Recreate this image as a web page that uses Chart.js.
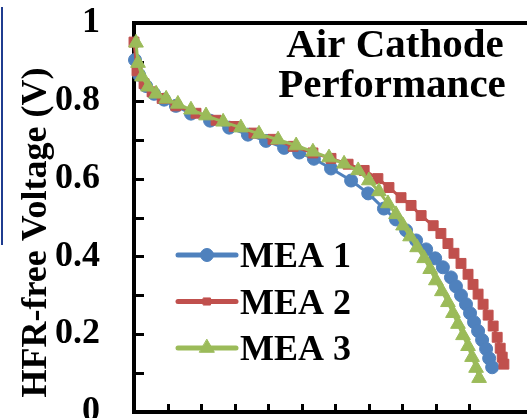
<!DOCTYPE html>
<html>
<head>
<meta charset="utf-8">
<script src="https://cdn.jsdelivr.net/npm/chart.js@4/dist/chart.umd.min.js"></script>
<style>
  html, body { margin: 0; padding: 0; background: #fff; overflow: hidden; }
  #wrap { position: relative; width: 527px; height: 440px; }
  #edge { position: absolute; left: 1px; top: 7px; width: 2px; height: 238px; background: #1f3c8f; }
  canvas { display: block; }
</style>
</head>
<body>
<div id="wrap">
  <div id="edge"></div>
  <canvas id="chart" width="527" height="440"></canvas>
</div>
<script>
// Polarization curves (HFR-free voltage vs. current density)
const seriesLabels = ['MEA 1', 'MEA 2', 'MEA 3'];
const seriesColors = ['#4F81BD', '#C0504D', '#9BBB59'];

const mea1Current = [0.003,0.015,0.036,0.060,0.090,0.125,0.170,0.227,0.284,0.340,0.394,0.448,0.493,0.537,0.588,0.648,0.699,0.746,0.782,0.812,0.842,0.872,0.899,0.922,0.946,0.961,0.976,0.991,1.003,1.015,1.027,1.039,1.051,1.060,1.069];
const mea1Voltage = [0.905,0.867,0.838,0.818,0.803,0.787,0.767,0.749,0.731,0.713,0.697,0.679,0.667,0.651,0.626,0.595,0.562,0.523,0.495,0.467,0.441,0.418,0.395,0.372,0.346,0.323,0.300,0.277,0.254,0.231,0.208,0.185,0.162,0.138,0.115];

const mea2Current = [0.000,0.009,0.030,0.054,0.084,0.125,0.185,0.245,0.299,0.358,0.415,0.475,0.534,0.588,0.639,0.687,0.728,0.761,0.797,0.827,0.857,0.893,0.916,0.937,0.955,0.976,0.997,1.012,1.027,1.042,1.057,1.072,1.084,1.093,1.099,1.104];
const mea2Voltage = [0.951,0.877,0.844,0.823,0.806,0.787,0.768,0.750,0.734,0.717,0.701,0.683,0.666,0.652,0.637,0.621,0.600,0.577,0.551,0.531,0.505,0.479,0.459,0.433,0.408,0.382,0.354,0.328,0.303,0.277,0.249,0.221,0.192,0.164,0.141,0.123];

const mea3Current = [0.006,0.012,0.024,0.042,0.066,0.096,0.131,0.170,0.215,0.266,0.319,0.373,0.430,0.484,0.534,0.582,0.627,0.669,0.701,0.731,0.758,0.782,0.803,0.824,0.845,0.866,0.884,0.901,0.919,0.937,0.952,0.967,0.982,0.997,1.009,1.021,1.030];
const mea3Voltage = [0.949,0.897,0.862,0.836,0.818,0.805,0.792,0.777,0.762,0.746,0.731,0.715,0.700,0.685,0.669,0.654,0.638,0.621,0.595,0.567,0.536,0.508,0.479,0.451,0.423,0.395,0.367,0.338,0.310,0.282,0.254,0.226,0.197,0.169,0.141,0.113,0.087];

const yTickStep = 0.1;
const xTickStep = 0.1;
const yTitle = 'HFR-free Voltage (V)';
const panelTitle = ['Air Cathode', 'Performance'];

const SERIF = '"Liberation Serif", "Times New Roman", serif';

function points(xs, ys) { return xs.map((x, i) => ({ x, y: ys[i] })); }

const series = [
  { x: mea1Current, y: mea1Voltage, style: 'circle',   radius: 6.5, order: 3 },
  { x: mea2Current, y: mea2Voltage, style: 'rect',     radius: 7,   order: 2 },
  { x: mea3Current, y: mea3Voltage, style: 'triangle', radius: 8.5, order: 1 }
];

const datasets = series.map((s, i) => ({
  label: seriesLabels[i],
  data: points(s.x, s.y),
  showLine: true,
  borderColor: seriesColors[i],
  backgroundColor: seriesColors[i],
  borderWidth: 3,
  tension: 0,
  pointStyle: s.style,
  pointRadius: s.radius,
  pointBackgroundColor: seriesColors[i],
  pointBorderColor: seriesColors[i],
  pointBorderWidth: 1,
  order: s.order,
  clip: false
}));

function onStep(v, step) {
  const k = v / step;
  return Math.abs(k - Math.round(k)) < 1e-6;
}

// keep the plot box exactly where the layout padding puts it
function noScalePadding(s) {
  s.paddingTop = 0; s.paddingBottom = 0; s.paddingLeft = 0; s.paddingRight = 0;
}

// Axes frame with inward tick marks, drawn beneath the data markers
const framePlugin = {
  id: 'frame',
  beforeDatasetsDraw(chart) {
    const { ctx, chartArea: a, scales: { x, y } } = chart;
    ctx.save();
    ctx.strokeStyle = '#000';
    ctx.lineWidth = 3;
    ctx.beginPath();
    y.ticks.forEach(t => {
      if (!onStep(t.value, yTickStep) || t.value <= 0 || t.value >= 1) return;
      const py = Math.round(y.getPixelForValue(t.value)) + 0.5;
      ctx.moveTo(a.left, py); ctx.lineTo(a.left + 10, py);
    });
    x.ticks.forEach(t => {
      if (!onStep(t.value, xTickStep) || t.value <= 0) return;
      const px = Math.round(x.getPixelForValue(t.value)) + 0.5;
      ctx.moveTo(px, a.bottom); ctx.lineTo(px, a.bottom - 8);
    });
    ctx.stroke();
    ctx.lineWidth = 4;
    ctx.beginPath();
    ctx.moveTo(a.right, a.top);
    ctx.lineTo(a.left, a.top);
    ctx.lineTo(a.left, a.bottom);
    ctx.lineTo(a.right, a.bottom);
    ctx.stroke();
    ctx.restore();
  }
};

// Axis title, panel title and in-plot legend
const annotatePlugin = {
  id: 'annotate',
  afterDraw(chart) {
    const { ctx, chartArea: a } = chart;
    ctx.save();
    ctx.fillStyle = '#000';

    // rotated y-axis title
    ctx.save();
    ctx.font = `bold 36px ${SERIF}`;
    ctx.translate(46, (a.top + a.bottom) / 2 + 15);
    ctx.rotate(-Math.PI / 2);
    ctx.textAlign = 'center';
    ctx.textBaseline = 'alphabetic';
    ctx.fillText(yTitle, 0, 0);
    ctx.restore();

    // panel title
    ctx.font = `bold 41px ${SERIF}`;
    ctx.textAlign = 'center';
    ctx.textBaseline = 'alphabetic';
    ctx.fillText(panelTitle[0], a.left + 261, a.top + 34);
    ctx.fillText(panelTitle[1], a.left + 258, a.top + 74);

    // legend
    const x0 = a.left + 44, x1 = a.left + 102;
    chart.data.datasets.forEach((ds, i) => {
      const cy = a.top + 232 + i * 46.5;
      ctx.strokeStyle = ds.borderColor;
      ctx.lineWidth = 5;
      ctx.lineCap = 'round';
      ctx.beginPath();
      ctx.moveTo(x0, cy); ctx.lineTo(x1, cy);
      ctx.stroke();
      ctx.fillStyle = ds.pointBackgroundColor;
      ctx.strokeStyle = ds.pointBorderColor;
      ctx.lineWidth = 1;
      Chart.helpers.drawPoint(ctx, {
        pointStyle: ds.pointStyle,
        radius: ds.pointStyle === 'rect' ? 5 : ds.pointRadius,
        rotation: 0,
        borderWidth: 1
      }, (x0 + x1) / 2, cy);
      ctx.fillStyle = '#000';
      ctx.font = `bold 36px ${SERIF}`;
      ctx.textAlign = 'left';
      ctx.textBaseline = 'alphabetic';
      ctx.fillText(ds.label, x1 + 4, cy + 12);
    });
    ctx.restore();
  }
};

new Chart(document.getElementById('chart'), {
  type: 'scatter',
  data: { datasets },
  options: {
    responsive: false,
    animation: false,
    devicePixelRatio: 1,
    layout: { autoPadding: false, padding: { left: 0, right: 0, top: 23, bottom: 28 } },
    plugins: { legend: { display: false }, tooltip: { enabled: false }, title: { display: false } },
    scales: {
      x: {
        type: 'linear',
        min: 0,
        max: 1.173,
        grid: { display: false, drawTicks: false },
        border: { display: false },
        ticks: { display: false, stepSize: xTickStep },
        afterFit: s => { s.height = 0; noScalePadding(s); }
      },
      y: {
        type: 'linear',
        min: 0,
        max: 1,
        grid: { display: false, drawTicks: false },
        border: { display: false },
        ticks: {
          stepSize: yTickStep,
          autoSkip: false,
          padding: 34,
          color: '#000',
          font: { family: SERIF, weight: 'bold', size: 36 },
          callback: v => {
            const k = Math.round(v * 10);
            return k % 2 === 0 ? String(k / 10) : '';
          }
        },
        afterFit: s => { s.width = 134; noScalePadding(s); }
      }
    }
  },
  plugins: [framePlugin, annotatePlugin]
});
</script>
</body>
</html>
